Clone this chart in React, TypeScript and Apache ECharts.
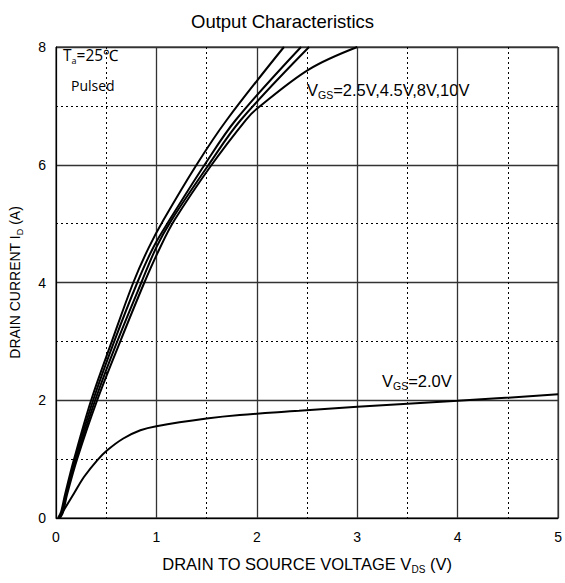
import React, { useEffect, useRef } from "react";
import * as echarts from "echarts";

const xTicks = [0, 1, 2, 3, 4, 5];
const yTicks = [0, 2, 4, 6, 8];

// [V_DS, I_D]
const vgs10: number[][] = [[0.02,0],[0.05,0.1],[0.09,0.4],[0.18,1.0],[0.35,2.0],[0.556,3.0],[0.77,4.0],[0.92,4.58],[1.07,5.06],[1.40,6.0],[1.70,6.76],[2.27,8.0]];
const vgs8: number[][] = [[0.03,0],[0.06,0.1],[0.1,0.4],[0.19,1.0],[0.37,2.0],[0.58,3.0],[0.81,4.0],[0.97,4.6],[1.13,5.06],[1.48,6.0],[1.79,6.76],[2.44,8.0]];
const vgs45: number[][] = [[0.03,0],[0.06,0.1],[0.1,0.4],[0.20,1.0],[0.39,2.0],[0.61,3.0],[0.85,4.0],[1.0,4.6],[1.15,5.06],[1.52,6.0],[1.84,6.76],[2.52,8.0]];
const vgs25: number[][] = [[0.04,0],[0.07,0.1],[0.11,0.4],[0.21,1.0],[0.41,2.0],[0.64,3.0],[0.88,4.0],[1.03,4.57],[1.18,5.06],[1.55,6.0],[1.89,6.76],[2.0,6.95],[2.52,7.62],[3.0,8.0]];
const vgs20: number[][] = [[0.03,0],[0.08,0.14],[0.18,0.42],[0.28,0.70],[0.41,0.98],[0.51,1.15],[0.67,1.35],[0.84,1.49],[1.0,1.56],[1.5,1.69],[1.83,1.75],[2.42,1.82],[3.0,1.89],[4.0,1.99],[5.0,2.10]];

const FONT = "'Liberation Sans', Arial, sans-serif";
const OPEN = "'Open Sans', sans-serif";

export default function App() {
  const ref = useRef<HTMLDivElement>(null);
  useEffect(() => {
    document.body.style.margin = "0";
    const chart = echarts.init(ref.current!, null, { renderer: "svg" });
    const line = (data: number[][]) => ({
      type: "line",
      data,
      showSymbol: false,
      smooth: 0.35,
      lineStyle: { color: "#000", width: 2 },
      silent: true,
    });
    chart.setOption({
      animation: false,
      backgroundColor: "#fff",
      title: {
        text: "Output Characteristics",
        left: "center",
        top: 7,
        textStyle: { fontFamily: FONT, fontSize: 18.5, fontWeight: "normal", color: "#000" },
      },
      grid: { left: 56, right: 4, top: 47, bottom: 65, show: true, borderColor: "#000", borderWidth: 1 },
      xAxis: {
        type: "value",
        min: xTicks[0],
        max: xTicks[xTicks.length - 1],
        interval: 1,
        axisLine: { lineStyle: { color: "#000", width: 1 } },
        axisTick: { show: false },
        axisLabel: { color: "#000", fontSize: 14, fontFamily: FONT, margin: 12 },
        splitLine: { show: true, lineStyle: { color: "#333", width: 1.3 } },
        minorTick: { show: false, splitNumber: 2 },
        minorSplitLine: { show: true, lineStyle: { color: "#000", type: [2, 3], width: 1 } },
        name: "{a|DRAIN TO SOURCE VOLTAGE V}{s|DS}{a| (V)}",
        nameLocation: "middle",
        nameGap: 36,
        nameTextStyle: {
          rich: {
            a: { fontSize: 16.5, fontFamily: FONT, color: "#000" },
            s: { fontSize: 10, padding: [10, 0, 0, 0], fontFamily: FONT, color: "#000" },
          },
        },
      },
      yAxis: {
        type: "value",
        min: yTicks[0],
        max: yTicks[yTicks.length - 1],
        interval: 2,
        axisLine: { show: true, lineStyle: { color: "#000", width: 1 } },
        axisTick: { show: false },
        axisLabel: { color: "#000", fontSize: 14, fontFamily: FONT, margin: 10 },
        splitLine: { show: true, lineStyle: { color: "#333", width: 1.3 } },
        minorTick: { show: false, splitNumber: 2 },
        minorSplitLine: { show: true, lineStyle: { color: "#000", type: [2, 3], width: 1 } },
        name: "{a|DRAIN CURRENT I}{s|D}{a| (A)}",
        nameLocation: "middle",
        nameGap: 32,
        nameTextStyle: {
          rich: {
            a: { fontSize: 14, fontFamily: FONT, color: "#000" },
            s: { fontSize: 9, padding: [9, 0, 0, 0], fontFamily: FONT, color: "#000" },
          },
        },
      },
      graphic: [
        {
          type: "text",
          left: 63,
          top: 47,
          style: {
            text: "{a|T}{s|a}{a|=25℃}",
            rich: {
              a: { fontSize: 15.5, fontFamily: OPEN, fill: "#000" },
              s: { fontSize: 9, padding: [10, 0, 0, 0], fontFamily: OPEN, fill: "#000" },
            },
          },
        },
        {
          type: "text",
          left: 71,
          top: 78,
          style: { text: "Pulsed", fontSize: 14, fontFamily: OPEN, fill: "#000" },
        },
        {
          type: "text",
          left: 307,
          top: 81,
          style: {
            text: "{a|V}{s|GS}{a|=2.5V,4.5V,8V,10V}",
            rich: {
              a: { fontSize: 16.5, fontFamily: FONT, fill: "#000" },
              s: { fontSize: 10.5, padding: [10, 0, 0, 0], fontFamily: FONT, fill: "#000" },
            },
          },
        },
        {
          type: "text",
          left: 382,
          top: 372,
          style: {
            text: "{a|V}{s|GS}{a|=2.0V}",
            rich: {
              a: { fontSize: 16.5, fontFamily: FONT, fill: "#000" },
              s: { fontSize: 10.5, padding: [10, 0, 0, 0], fontFamily: FONT, fill: "#000" },
            },
          },
        },
      ],
      series: [line(vgs10), line(vgs8), line(vgs45), line(vgs25), line(vgs20)],
    });
    return () => chart.dispose();
  }, []);
  return <div ref={ref} style={{ width: 565, height: 583 }} />;
}
